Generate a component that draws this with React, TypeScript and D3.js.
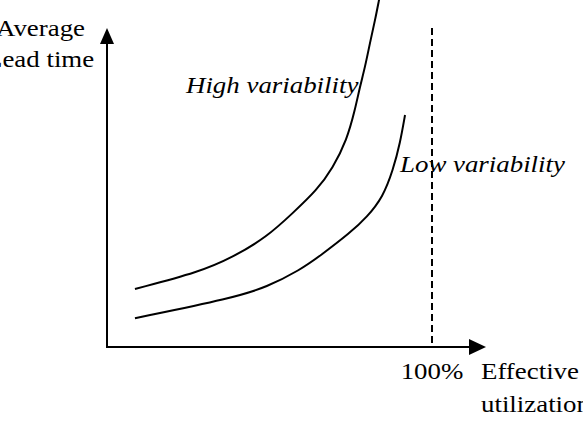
import React from 'react';
import * as d3 from 'd3';

// effective utilization (% of capacity) vs average lead time (relative units)
const highUtil = [8.6, 28.6, 38.8, 49.2, 57.2, 64.6, 69.5, 73.8, 76.3, 77.8, 79.4, 80.9, 82.5, 83.7, 84.3];
const highLead = [18.3, 23.7, 28.4, 34.7, 42.3, 49.5, 56.5, 65.3, 74.8, 82.0, 88.3, 95.9, 103.2, 109.5, 112.6];
const lowUtil = [8.6, 38.8, 49.2, 59.4, 65.5, 74.8, 80.0, 84.9, 88.0, 90.2, 91.7];
const lowLead = [9.1, 15.5, 18.9, 24.3, 28.7, 36.0, 41.0, 47.3, 55.8, 64.4, 73.2];
const capacityMark = 100;
const tickLabel = '100%';
const curveLabels = ['High variability', 'Low variability'];
const yTitle = ['Average', 'Lead time'];
const xTitle = ['Effective', 'utilization'];

const W = 583;
const H = 422;
const FONT = '"Liberation Serif", "Times New Roman", serif';
const SX = 1.12; // glyphs in the original are a bit wide

const Label: React.FC<{ x: number; y: number; italic?: boolean; anchor?: string; children: string }> = ({ x, y, italic, anchor, children }) => (
  <text
    transform={`translate(${x},${y}) scale(${SX},1)`}
    fontStyle={italic ? 'italic' : 'normal'}
    textAnchor={anchor || 'start'}
  >
    {children}
  </text>
);

const App: React.FC = () => {
  const x = d3.scaleLinear().domain([0, 100]).range([107, 432]);
  const y = d3.scaleLinear().domain([0, 100]).range([347, 30]);

  // basis spline smooths out the reading error in the traced points
  const line = d3.line<[number, number]>()
    .x(d => x(d[0]))
    .y(d => y(d[1]))
    .curve(d3.curveBasis);

  const highPts = highUtil.map((u, i) => [u, highLead[i]] as [number, number]);
  const lowPts = lowUtil.map((u, i) => [u, lowLead[i]] as [number, number]);

  const x0 = x(0);
  const y0 = y(0);
  const xEnd = 486;
  const yEnd = 28;

  return (
    <svg width={W} height={H} style={{ position: 'absolute', left: 0, top: 0, background: '#fff' }}>
      {/* axes */}
      <line x1={x0} y1={y0 + 1} x2={x0} y2={yEnd + 14} stroke="#000" strokeWidth={2} />
      <path d={`M${x0},${yEnd} L${x0 - 7},${yEnd + 16} L${x0 + 7},${yEnd + 16} Z`} fill="#000" />
      <line x1={x0 - 1} y1={y0} x2={xEnd - 14} y2={y0} stroke="#000" strokeWidth={2} />
      <path d={`M${xEnd},${y0} L${xEnd - 17},${y0 - 8} L${xEnd - 17},${y0 + 8} Z`} fill="#000" />

      {/* 100% capacity line */}
      <line
        x1={x(capacityMark)} y1={yEnd} x2={x(capacityMark)} y2={y0}
        stroke="#000" strokeWidth={2} strokeDasharray="7,4"
      />

      {/* curves */}
      <path d={line(highPts) || ''} fill="none" stroke="#000" strokeWidth={2} />
      <path d={line(lowPts) || ''} fill="none" stroke="#000" strokeWidth={2} />

      <g fontFamily={FONT} fontSize={24} fill="#000">
        <Label x={186} y={93} italic>{curveLabels[0]}</Label>
        <Label x={400} y={172} italic>{curveLabels[1]}</Label>
        <Label x={x(capacityMark)} y={379} anchor="middle">{tickLabel}</Label>
        <Label x={481} y={379}>{xTitle[0]}</Label>
        <Label x={481} y={412}>{xTitle[1]}</Label>
        <Label x={-4} y={36}>{yTitle[0]}</Label>
        <Label x={-14} y={67}>{yTitle[1]}</Label>
      </g>
    </svg>
  );
};

export default App;
